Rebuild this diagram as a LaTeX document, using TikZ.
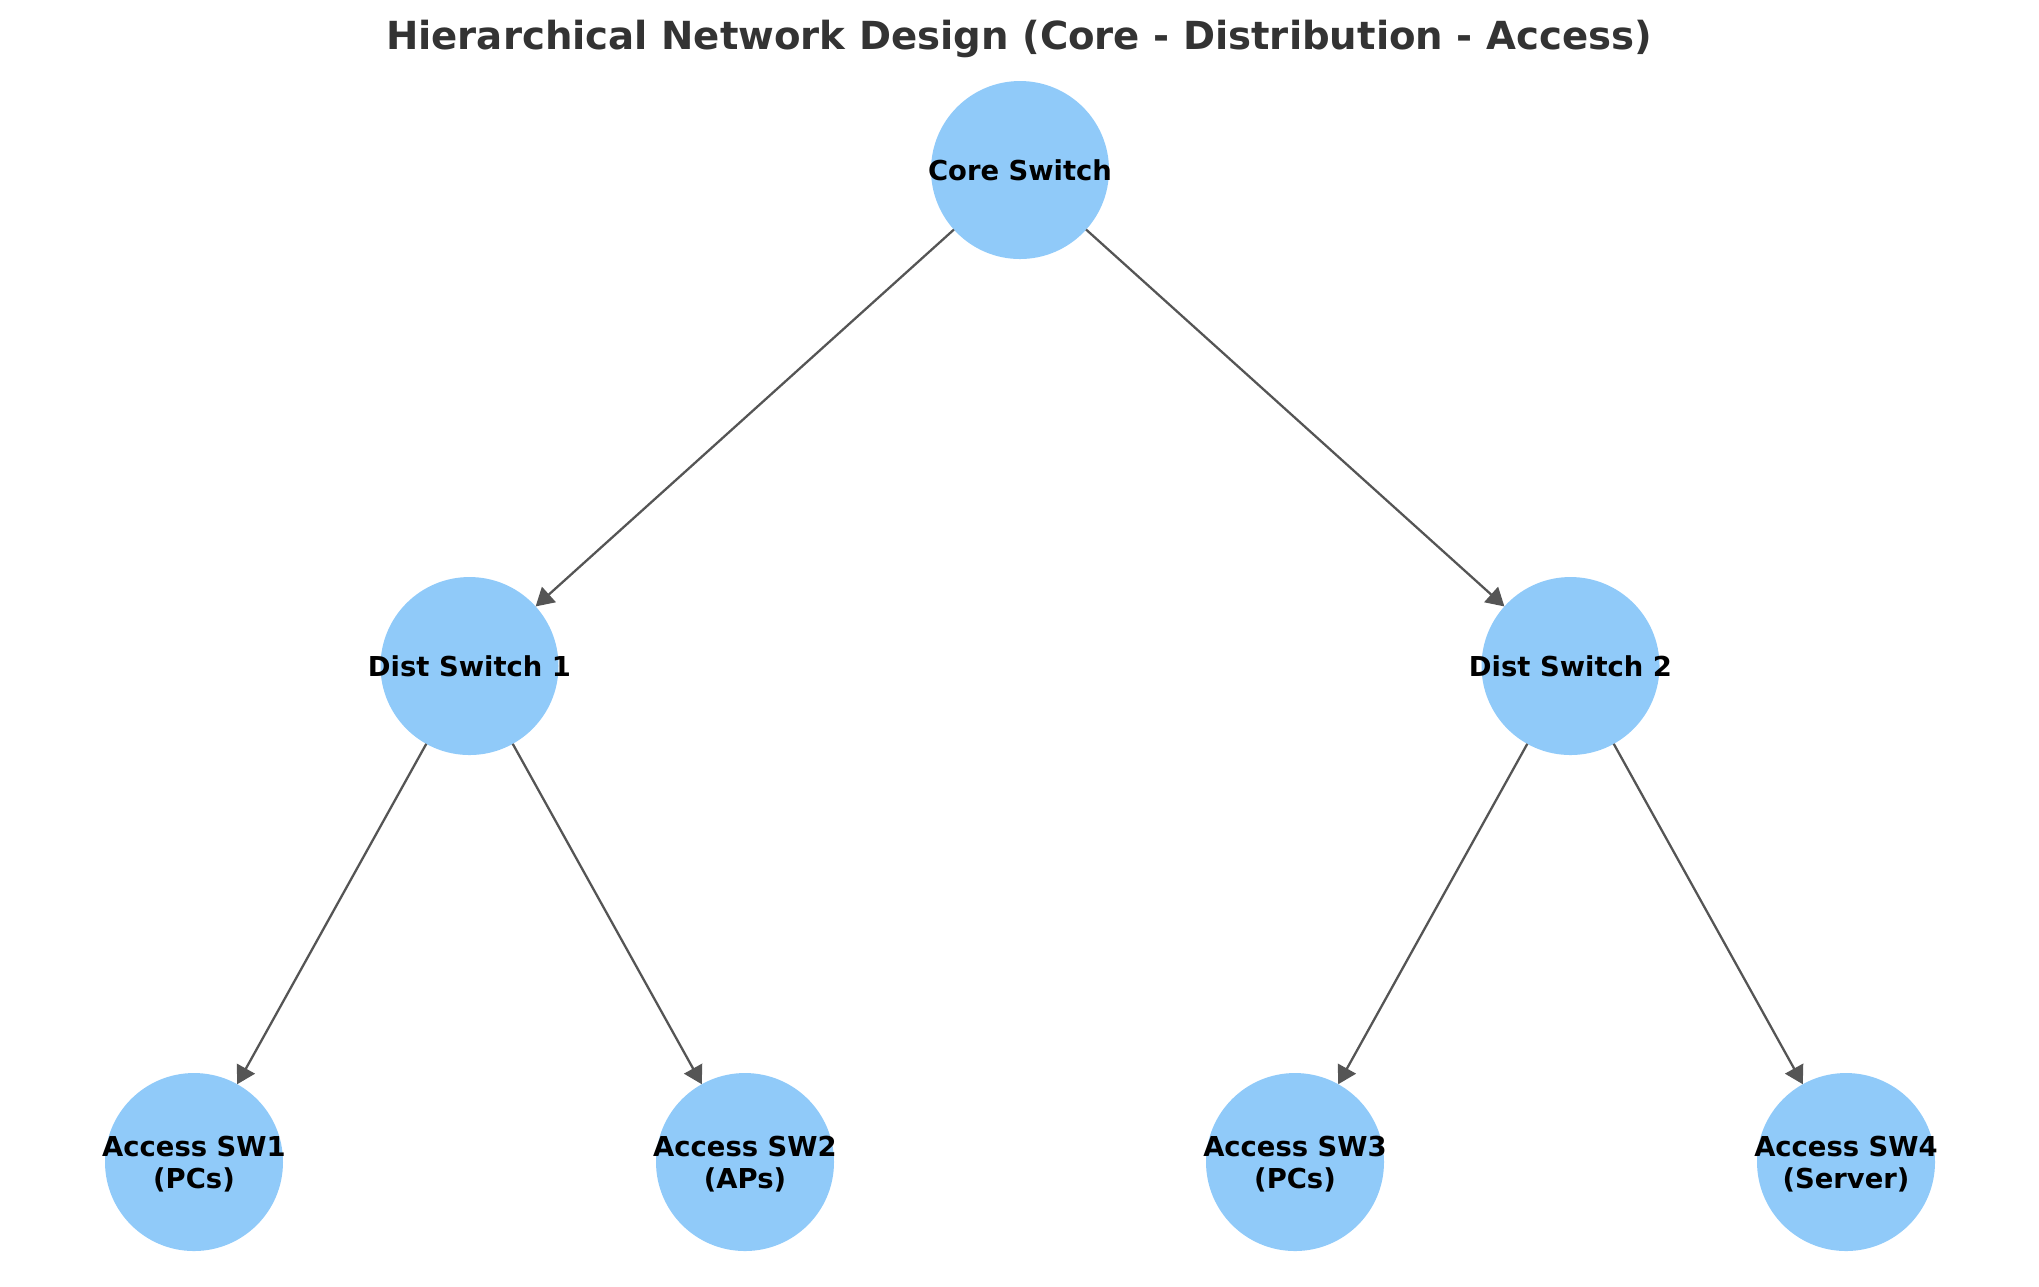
\documentclass[tikz,border=0pt]{standalone}
\usepackage{fontspec}
\setmainfont{DejaVu Sans}
\usetikzlibrary{positioning, arrows.meta}
\definecolor{switchblue}{HTML}{90CAF9}
\definecolor{linkgray}{HTML}{555555}
\definecolor{titlegray}{HTML}{333333}
% label may stick out of the circle, so give it no width
\newcommand{\swname}[1]{\makebox[0pt]{\raisebox{-1.2pt}[\height][\depth]{\begin{tabular}{@{}c@{}}#1\end{tabular}}}}

\begin{document}
\begin{tikzpicture}[
					level distance=4.96cm,
					level 1/.style={sibling distance=11.01cm},
					level 2/.style={sibling distance=5.51cm},
					switch/.style={circle, fill=switchblue, minimum size=1.78cm, inner sep=0pt, outer sep=0pt, font=\bfseries\fontsize{7.8}{9.1}\selectfont},
					edge from parent/.style={draw=none},
					link/.style={draw=linkgray, line width=0.65pt, -{Triangle[length=5.1pt, width=5.8pt]}}
					]
					\useasboundingbox (0,0) rectangle (20.39,-12.86);
					\node[switch] (core) at (10.20,-1.70) {\swname{Core Switch}}
					child {node[switch] (dist1) {\swname{Dist Switch 1}}
						child {node[switch] (acc1) {\swname{Access SW1\\(PCs)}}}
						child {node[switch] (acc2) {\swname{Access SW2\\(APs)}}}
					}
					child {node[switch] (dist2) {\swname{Dist Switch 2}}
						child {node[switch] (acc3) {\swname{Access SW3\\(PCs)}}}
						child {node[switch] (acc4) {\swname{Access SW4\\(Server)}}}
					};
					\foreach \from/\to in {core/dist1, core/dist2, dist1/acc1, dist1/acc2, dist2/acc3, dist2/acc4}
						\draw[link] (\from) -- (\to);
					\node[text=titlegray, font=\bfseries\fontsize{11}{13}\selectfont] (title) at (10.19,-0.39)
					{Hierarchical Network Design (Core - Distribution - Access)};
				\end{tikzpicture}
\end{document}
